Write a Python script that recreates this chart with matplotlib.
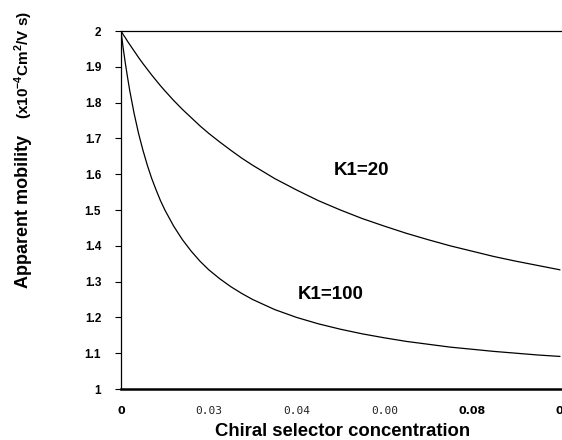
import matplotlib
matplotlib.use("Agg")
import matplotlib.pyplot as plt

# ---- data ----
conc = [0, 0.0005, 0.001, 0.0015, 0.002, 0.003, 0.004, 0.005, 0.006, 0.007,
        0.008, 0.009, 0.01, 0.012, 0.014, 0.016, 0.018, 0.02, 0.0225, 0.025,
        0.0275, 0.03, 0.035, 0.04, 0.045, 0.05, 0.055, 0.06, 0.065, 0.07,
        0.075, 0.08, 0.085, 0.09, 0.095, 0.1]
mob_k20 = [2.00, 1.99, 1.981, 1.971, 1.962, 1.944, 1.926, 1.909, 1.893, 1.877,
           1.862, 1.847, 1.833, 1.806, 1.781, 1.758, 1.735, 1.714, 1.690, 1.667,
           1.645, 1.625, 1.588, 1.556, 1.526, 1.50, 1.476, 1.455, 1.435, 1.417,
           1.40, 1.385, 1.37, 1.357, 1.345, 1.333]
mob_k100 = [2.00, 1.952, 1.909, 1.87, 1.833, 1.769, 1.714, 1.667, 1.625, 1.588,
            1.556, 1.526, 1.50, 1.455, 1.417, 1.385, 1.357, 1.333, 1.308, 1.286,
            1.267, 1.25, 1.222, 1.20, 1.182, 1.167, 1.154, 1.143, 1.133, 1.125,
            1.117, 1.111, 1.105, 1.10, 1.095, 1.091]
series_labels = ["K1=20", "K1=100"]
label_pos = [(0.0547, 1.609), (0.0478, 1.263)]

x_tick_pos = [0, 0.02, 0.04, 0.06, 0.08, 0.1]
x_tick_text = ["0", "0.03", "0.04", "0.00", "0.08", "0"]
y_ticks = [1, 1.1, 1.2, 1.3, 1.4, 1.5, 1.6, 1.7, 1.8, 1.9, 2]
y_tick_text = ["1", "1.1", "1.2", "1.3", "1.4", "1.5", "1.6", "1.7", "1.8", "1.9", "2"]

plt.rcParams['font.family'] = ['Liberation Sans', 'DejaVu Sans']
plt.rcParams['mathtext.fontset'] = 'custom'
plt.rcParams['mathtext.rm'] = 'Liberation Sans:bold'
plt.rcParams['mathtext.bf'] = 'Liberation Sans:bold'

W, H = 562, 440
fig = plt.figure(figsize=(W / 100, H / 100), dpi=100)
ax = fig.add_axes([121 / W, 1 - 389 / H, (W - 121) / W, (389 - 31) / H])

ax.plot(conc, mob_k20, color="black", lw=0.9)
ax.plot(conc, mob_k100, color="black", lw=0.9)

for txt, (tx, ty) in zip(series_labels, label_pos):
    ax.text(tx, ty, txt, fontsize=13.5, fontweight="bold", ha="center", va="center")

ax.set_xlim(0, 0.1005)
ax.set_ylim(1, 2)

ax.spines["right"].set_visible(False)
ax.spines["top"].set_linewidth(0.9)
ax.spines["left"].set_linewidth(0.9)
ax.spines["bottom"].set_linewidth(1.8)

ax.set_yticks(y_ticks)
ax.set_yticklabels(y_tick_text, fontsize=8.5, fontweight="bold")
ax.tick_params(axis="y", direction="out", length=4.3, width=0.8, pad=10)

ax.set_xticks(x_tick_pos)
ax.set_xticklabels(x_tick_text)
ax.tick_params(axis="x", length=0, pad=12)
for i, lab in enumerate(ax.get_xticklabels()):
    if x_tick_text[i] in ("0", "0.08"):
        lab.set_fontfamily("DejaVu Sans")
        lab.set_fontweight("bold")
        lab.set_fontsize(8)
    else:
        lab.set_fontfamily("DejaVu Sans Mono")
        lab.set_fontsize(8)
        lab.set_color("#222222")

fig.text(342.5 / W, 1 - 431 / H, "Chiral selector concentration",
         fontsize=13.3, fontweight="bold", ha="center", va="center")

fig.text(24 / W, 1 - 211 / H, "Apparent mobility", rotation=90,
         fontsize=13, fontweight="bold", ha="center", va="center")
fig.text(24 / W, 1 - 65 / H, r"(x10$^{-4}$Cm$^{2}$/V s)", rotation=90,
         fontsize=11, fontweight="bold", ha="center", va="center")

fig.savefig("out.png", dpi=100)
